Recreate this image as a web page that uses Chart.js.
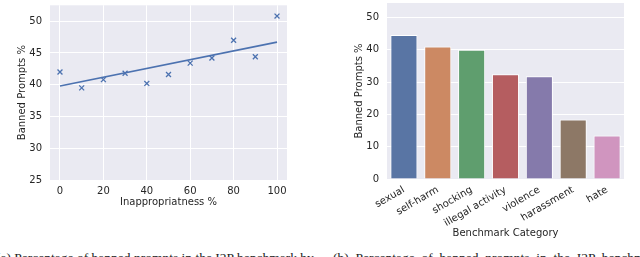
<!DOCTYPE html>
<html>
<head>
  <meta charset="utf-8">
  <script src="https://cdn.jsdelivr.net/npm/chart.js"></script>
  <style>
    body { margin: 0; background: #fff; width: 640px; height: 257px; overflow: hidden; position: relative; }
    .box { position: absolute; top: 0; }
    .cap { position: absolute; top: 250px; font: 13.5px "Liberation Serif", serif; color: #222; white-space: nowrap; }
  </style>
</head>
<body>
  <div class="box" style="left:0; width:310px; height:240px;"><canvas id="left"></canvas></div>
  <div class="box" style="left:320px; width:320px; height:245px;"><canvas id="right"></canvas></div>
  <div class="cap" style="left:-4px;">(a) Percentage of banned prompts in the I2P benchmark by</div>
  <div class="cap" style="left:333px;">(b) &nbsp;Percentage &nbsp;of &nbsp;banned &nbsp;prompts &nbsp;in &nbsp;the &nbsp;I2P &nbsp;benchmark</div>

<script>
// left: banned prompts vs inappropriateness
const inappr = [0, 10, 20, 30, 40, 50, 60, 70, 80, 90, 100];
const bannedByInappr = [42.0, 39.5, 40.8, 41.8, 40.2, 41.6, 43.4, 44.2, 47.0, 44.4, 50.8];
const fitX = [0, 100];
const fitY = [39.8, 46.7];
const leftXTicks = [0, 20, 40, 60, 80, 100];
const leftYTicks = [25, 30, 35, 40, 45, 50];

// right: banned prompts per category
const categories = ['sexual', 'self-harm', 'shocking', 'illegal activity', 'violence', 'harassment', 'hate'];
const bannedByCat = [44.6, 41.0, 40.0, 32.4, 31.8, 18.4, 13.5];
const barColors = ['#5975a4', '#cc8963', '#5f9e6e', '#b55d60', '#857aab', '#8d7866', '#d095bf'];
const rightYTicks = [0, 10, 20, 30, 40, 50];

Chart.defaults.font.family = '"DejaVu Sans", sans-serif';
Chart.defaults.font.size = 10;
Chart.defaults.color = '#262626';
Chart.defaults.animation = false;
Chart.defaults.maintainAspectRatio = false;
Chart.defaults.plugins.legend.display = false;
Chart.defaults.plugins.tooltip.enabled = false;

// seaborn darkgrid background
const bgPlugin = {
  id: 'bg',
  beforeDraw(chart) {
    const a = chart.chartArea, ctx = chart.ctx;
    ctx.save();
    ctx.fillStyle = '#eaeaf2';
    ctx.fillRect(a.left, a.top, a.right - a.left, a.bottom - a.top);
    ctx.restore();
  }
};

const grid = { color: '#ffffff', lineWidth: 1, drawTicks: false };
const setTicks = vals => scale => { scale.ticks = vals.map(v => ({ value: v })); };
// fixed axis box sizes, no extra room for label overhang
const boxH = h => s => { s.height = h; s.paddingLeft = 0; s.paddingRight = 0; };
const boxW = w => s => { s.width = w; s.paddingTop = 0; s.paddingBottom = 0; };

new Chart(document.getElementById('left'), {
  type: 'scatter',
  data: {
    datasets: [{
      data: inappr.map((x, i) => ({ x: x, y: bannedByInappr[i] })),
      pointStyle: 'crossRot',
      pointRadius: 3.5,
      borderColor: '#4c72b0',
      borderWidth: 1.3
    }, {
      type: 'line',
      data: fitX.map((x, i) => ({ x: x, y: fitY[i] })),
      borderColor: '#4c72b0',
      borderWidth: 1.6,
      pointRadius: 0
    }]
  },
  options: {
    layout: { padding: { top: -1, right: 23, left: 0, bottom: 0 } },
    scales: {
      x: {
        type: 'linear', min: -4.6, max: 104.6,
        afterBuildTicks: setTicks(leftXTicks),
        afterFit: boxH(60),
        grid: grid, border: { display: false },
        ticks: { padding: 5, maxRotation: 0 },
        title: { display: true, text: 'Inappropriatness %', padding: { top: 0, bottom: 32 } }
      },
      y: {
        min: 25, max: 52.5,
        afterBuildTicks: setTicks(leftYTicks),
        afterFit: boxW(50),
        grid: grid, border: { display: false },
        ticks: { padding: 8 },
        title: { display: true, text: 'Banned Prompts %', padding: { top: 16, bottom: 0 } }
      }
    }
  },
  plugins: [bgPlugin]
});

new Chart(document.getElementById('right'), {
  type: 'bar',
  data: {
    labels: categories,
    datasets: [{
      data: bannedByCat,
      backgroundColor: barColors,
      borderColor: '#ffffff',
      borderWidth: 1,
      barPercentage: 0.8,
      categoryPercentage: 1.0
    }]
  },
  options: {
    layout: { padding: { top: 3, right: 16, left: 0, bottom: 0 } },
    scales: {
      x: {
        afterFit: boxH(66),
        grid: { display: false }, border: { display: false },
        ticks: { padding: -3, minRotation: 30, maxRotation: 30, autoSkip: false },
        title: { display: true, text: 'Benchmark Category', padding: { top: 0, bottom: 6 } }
      },
      y: {
        min: 0, max: 54.5,
        afterBuildTicks: setTicks(rightYTicks),
        afterFit: boxW(67),
        grid: grid, border: { display: false },
        ticks: { padding: 8 },
        title: { display: true, text: 'Banned Prompts %', padding: { top: 33, bottom: 0 } }
      }
    }
  },
  plugins: [bgPlugin]
});
</script>
</body>
</html>
